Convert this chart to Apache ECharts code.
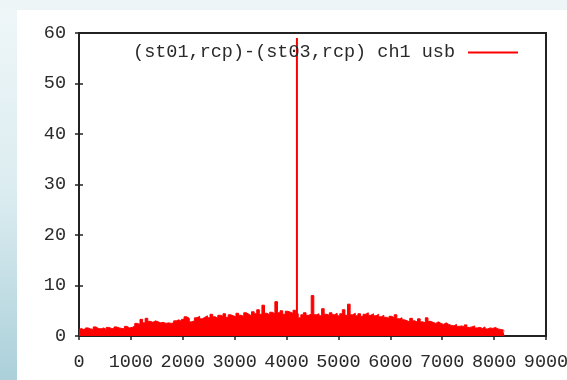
<!DOCTYPE html>
<html>
<head>
<meta charset="utf-8">
<script src="https://cdn.jsdelivr.net/npm/echarts@6/dist/echarts.min.js"></script>
<style>
  html, body { margin: 0; padding: 0; background: #ffffff; }
  #chart { width: 567px; height: 380px; }
</style>
</head>
<body>
<div id="chart"></div>
<script>
// Cross-correlation amplitude per channel, sampled every 50 channels (0 .. 8200)
const binWidth = 50;
const amplitude = [
  1.3, 1.5, 1.2, 1.6, 1.4, 1.3, 1.8, 1.5, 1.4, 1.6, 1.3, 1.7, 1.5, 1.4, 1.8, 1.6, 1.5, 1.4, 1.9, 1.6, 1.7,
  2.0, 2.5, 2.3, 3.3, 2.6, 3.5, 2.9, 2.7, 3.0, 2.8, 2.6, 2.7, 2.5, 2.6, 2.5, 2.6, 3.0, 3.2, 2.9, 3.3,
  3.8, 3.5, 2.8, 3.0, 3.6, 3.9, 3.4, 3.7, 4.0, 3.6, 4.3, 3.8, 3.5, 4.1, 3.9, 4.4, 3.7, 4.2, 4.0, 3.8,
  4.5, 4.1, 3.9, 4.6, 4.3, 4.0, 4.8, 4.4, 5.2, 4.3, 6.1, 4.5, 4.2, 4.7, 4.4, 6.8, 4.6, 5.0, 4.3, 4.9,
  4.7, 4.5, 5.1, 4.4, 3.6, 4.2, 4.6, 4.1, 4.3, 8.0, 4.2, 4.4, 4.0, 5.4, 4.3, 4.1, 4.6, 4.2, 4.5, 4.0,
  4.4, 5.2, 4.1, 6.3, 4.2, 4.5, 4.0, 4.4, 3.9, 4.3, 4.6, 4.1, 4.4, 4.0, 4.3, 3.8, 4.1, 3.7, 3.5, 3.9,
  3.6, 4.2, 3.4, 3.6, 3.2, 3.0, 2.8, 3.5, 3.0, 2.7, 3.4, 2.8, 2.6, 3.6, 2.9, 2.7, 2.5, 2.8, 2.5, 2.3,
  2.6, 2.3, 2.1, 2.0, 2.3, 1.9, 2.0, 1.8, 2.2, 1.7, 1.8, 2.0, 1.6, 1.7, 1.5, 1.8, 1.4, 1.6, 1.5, 1.7,
  1.4, 1.3, 1.2, 1.0
];
const channels = amplitude.map((_, i) => i * binWidth);

// Narrow fringe peak
const spikeChannels = [4200];
const spikeValues = [59];

const xTicks = [0, 1000, 2000, 3000, 4000, 5000, 6000, 7000, 8000, 9000];
const yTicks = [0, 10, 20, 30, 40, 50, 60];

const seriesName = '(st01,rcp)-(st03,rcp) ch1 usb';
const red = '#ff0000';
const ink = '#222222';
const textInk = '#2a2a2a';
const font = 'Liberation Mono';

const chart = echarts.init(document.getElementById('chart'), null, { renderer: 'canvas' });

const tickStyle = { show: true, inside: true, length: 4, lineStyle: { color: ink, width: 1.5 } };
const plain = v => String(v);

chart.setOption({
  backgroundColor: '#ffffff',
  animation: false,
  graphic: [
    { type: 'rect', z: -10, shape: { x: 0, y: 0, width: 567, height: 10 },
      style: { fill: '#eef5f7' }, silent: true },
    { type: 'rect', z: -10, shape: { x: 0, y: 10, width: 17, height: 370 },
      style: { fill: new echarts.graphic.LinearGradient(0, 0, 0, 1, [
        { offset: 0, color: '#eef6f8' },
        { offset: 0.5, color: '#dbecf0' },
        { offset: 1, color: '#abd0da' }
      ]) }, silent: true }
  ],
  grid: {
    left: 79, top: 33, right: 21, bottom: 44,
    outerBoundsMode: 'none',
    containLabel: false,
    show: true, borderColor: ink, borderWidth: 2, backgroundColor: 'transparent'
  },
  legend: {
    right: 44, top: 38,
    align: 'right',
    itemWidth: 50, itemHeight: 2, itemGap: 0,
    icon: 'rect',
    data: [{ name: seriesName, itemStyle: { color: red } }],
    textStyle: { fontFamily: font, fontSize: 18.5, color: textInk, padding: [0, 8, 0, 0] },
    selectedMode: false
  },
  xAxis: [
    {
      type: 'value', min: xTicks[0], max: xTicks[xTicks.length - 1], interval: 1000,
      axisLine: { show: true, onZero: false, lineStyle: { color: ink, width: 2 } },
      axisTick: tickStyle,
      splitLine: { show: false },
      axisLabel: {
        fontFamily: font, fontSize: 18.5, color: textInk, margin: 17,
        formatter: plain, hideOverlap: false, showMaxLabel: true, showMinLabel: true
      }
    },
    {
      type: 'value', position: 'top', min: xTicks[0], max: xTicks[xTicks.length - 1], interval: 1000,
      axisLine: { show: true, lineStyle: { color: ink, width: 2 } },
      axisTick: tickStyle,
      splitLine: { show: false },
      axisLabel: { show: false }
    }
  ],
  yAxis: [
    {
      type: 'value', min: yTicks[0], max: yTicks[yTicks.length - 1], interval: 10,
      axisLine: { show: true, onZero: false, lineStyle: { color: ink, width: 2 } },
      axisTick: tickStyle,
      splitLine: { show: false },
      axisLabel: { fontFamily: font, fontSize: 18.5, color: textInk, margin: 13, formatter: plain }
    },
    {
      type: 'value', position: 'right', min: yTicks[0], max: yTicks[yTicks.length - 1], interval: 10,
      axisLine: { show: true, lineStyle: { color: ink, width: 2 } },
      axisTick: tickStyle,
      splitLine: { show: false },
      axisLabel: { show: false }
    }
  ],
  series: [
    {
      name: seriesName,
      type: 'line',
      xAxisIndex: 0, yAxisIndex: 0,
      step: 'middle',
      showSymbol: false,
      data: channels.map((c, i) => [c, amplitude[i]]),
      lineStyle: { color: red, width: 1 },
      itemStyle: { color: red },
      areaStyle: { color: red, opacity: 1 },
      z: 2
    },
    {
      name: seriesName,
      type: 'bar',
      xAxisIndex: 0, yAxisIndex: 0,
      barWidth: 2,
      data: spikeChannels.map((c, i) => [c, spikeValues[i]]),
      itemStyle: { color: red },
      z: 3
    }
  ]
});
</script>
</body>
</html>
